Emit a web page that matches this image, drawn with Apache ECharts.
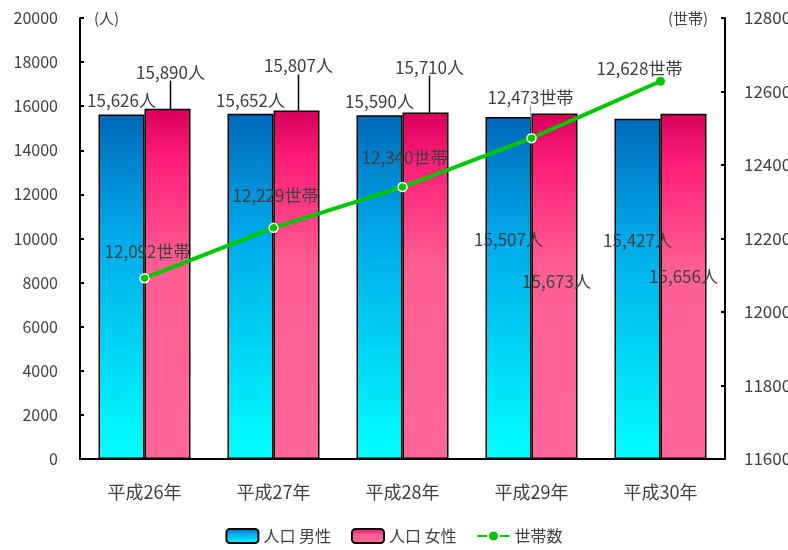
<!DOCTYPE html>
<html>
<head>
<meta charset="utf-8">
<script src="https://cdn.jsdelivr.net/npm/echarts@6/dist/echarts.min.js"></script>
<style>
  html, body { margin: 0; padding: 0; background: #fff; }
  #chart { width: 788px; height: 550px; }
</style>
</head>
<body>
<div id="chart"></div>
<script>
// データ
const years = ['平成26年', '平成27年', '平成28年', '平成29年', '平成30年'];
const male = [15626, 15652, 15590, 15507, 15427];      // 人口 男性
const female = [15890, 15807, 15710, 15673, 15656];    // 人口 女性
const households = [12092, 12229, 12340, 12473, 12628]; // 世帯数

// ラベルの移動量 (dx, dy)
const maleShift = [[0, 0], [0, 0], [0, 0], [0, 136], [0, 135]];
const femaleShift = [[3, -23], [2, -31], [4, -32], [2, 182], [0, 176]];
const lineShift = [[3, -8], [2, -14], [2, -11], [-1, -22], [-21, 5]];
const femaleGuide = [true, true, true, false, false];
const lineGuide = [false, false, false, true, false];

const textColor = '#404040';
const font = '"Noto Sans CJK JP", "Noto Sans", sans-serif';

let myChart = echarts.init(document.getElementById('chart'));

const fmt = v => v.toLocaleString('en-US');

let options = {
  animation: false,
  textStyle: { fontFamily: font },
  grid: { left: 80, right: 63, top: 18, bottom: 91, outerBoundsMode: 'none', containLabel: false },
  legend: {
    bottom: 1,
    left: 'center',
    itemWidth: 32,
    itemHeight: 14,
    itemGap: 20,
    textStyle: { color: textColor, fontSize: 16, fontFamily: font },
    data: ['人口 男性', '人口 女性', '世帯数']
  },
  xAxis: {
    type: 'category',
    data: years,
    axisTick: { show: false },
    axisLine: { lineStyle: { color: '#000', width: 2 } },
    axisLabel: { color: textColor, fontSize: 18, margin: 24 }
  },
  yAxis: [
    {
      type: 'value',
      min: 0, max: 20000, interval: 2000,
      splitLine: { show: false },
      axisLine: { show: true, lineStyle: { color: '#000', width: 2 } },
      axisTick: { show: true, inside: true, length: 4, lineStyle: { color: '#000', width: 2 } },
      axisLabel: { color: textColor, fontSize: 16, margin: 22, formatter: v => String(v) }
    },
    {
      type: 'value',
      min: 11600, max: 12800, interval: 200,
      splitLine: { show: false },
      axisLine: { show: true, lineStyle: { color: '#000', width: 2 } },
      axisTick: { show: true, inside: true, length: 4, lineStyle: { color: '#000', width: 2 } },
      axisLabel: { color: textColor, fontSize: 17, margin: 19, formatter: v => String(v) }
    }
  ],
  graphic: [
    { type: 'text', left: 94, top: 11, style: { text: '(人)', fill: textColor, font: '15px ' + font } },
    { type: 'text', left: 668, top: 11, style: { text: '(世帯)', fill: textColor, font: '15px ' + font } }
  ],
  series: [
    {
      name: '人口 男性',
      type: 'bar',
      yAxisIndex: 0,
      data: male,
      barWidth: 46,
      barGap: '0%',
      itemStyle: {
        borderColor: '#000',
        borderWidth: 1.5,
        color: new echarts.graphic.LinearGradient(0, 0, 0, 1, [
          { offset: 0, color: '#0068b8' },
          { offset: 0.35, color: '#00a9ea' },
          { offset: 1, color: '#00ffff' }
        ])
      },
      label: {
        show: true, position: 'top', distance: 5,
        color: textColor, fontSize: 17,
        formatter: p => fmt(p.value) + '人'
      },
      labelLayout: p => ({ dx: maleShift[p.dataIndex][0], dy: maleShift[p.dataIndex][1] })
    },
    {
      name: '人口 女性',
      type: 'bar',
      yAxisIndex: 0,
      data: female.map((v, i) => ({ value: v, labelLine: { show: femaleGuide[i] } })),
      barWidth: 46,
      itemStyle: {
        borderColor: '#000',
        borderWidth: 1.5,
        color: new echarts.graphic.LinearGradient(0, 0, 0, 1, [
          { offset: 0, color: '#d8005a' },
          { offset: 0.15, color: '#ff1f78' },
          { offset: 0.45, color: '#ff5f93' },
          { offset: 1, color: '#ff6699' }
        ])
      },
      label: {
        show: true, position: 'top', distance: 5,
        color: textColor, fontSize: 17,
        formatter: p => fmt(p.value) + '人'
      },
      labelLine: { lineStyle: { color: '#000', width: 1.5 } },
      labelLayout: p => ({ dx: femaleShift[p.dataIndex][0], dy: femaleShift[p.dataIndex][1] })
    },
    {
      name: '世帯数',
      type: 'line',
      yAxisIndex: 1,
      data: households.map((v, i) => ({
        value: v,
        labelLine: { show: lineGuide[i] },
        itemStyle: i === households.length - 1 ? { borderWidth: 0 } : undefined
      })),
      symbol: 'circle',
      symbolSize: 9,
      z: 5,
      lineStyle: { color: '#00c800', width: 4 },
      itemStyle: { color: '#00c800', borderColor: '#fff', borderWidth: 1.5 },
      label: {
        show: true, position: 'top', distance: 5,
        color: textColor, fontSize: 17,
        formatter: p => fmt(p.value) + '世帯'
      },
      labelLine: { lineStyle: { color: '#888', width: 1 } },
      labelLayout: p => ({ dx: lineShift[p.dataIndex][0], dy: lineShift[p.dataIndex][1] })
    }
  ]
};

myChart.setOption(options);
</script>
</body>
</html>
